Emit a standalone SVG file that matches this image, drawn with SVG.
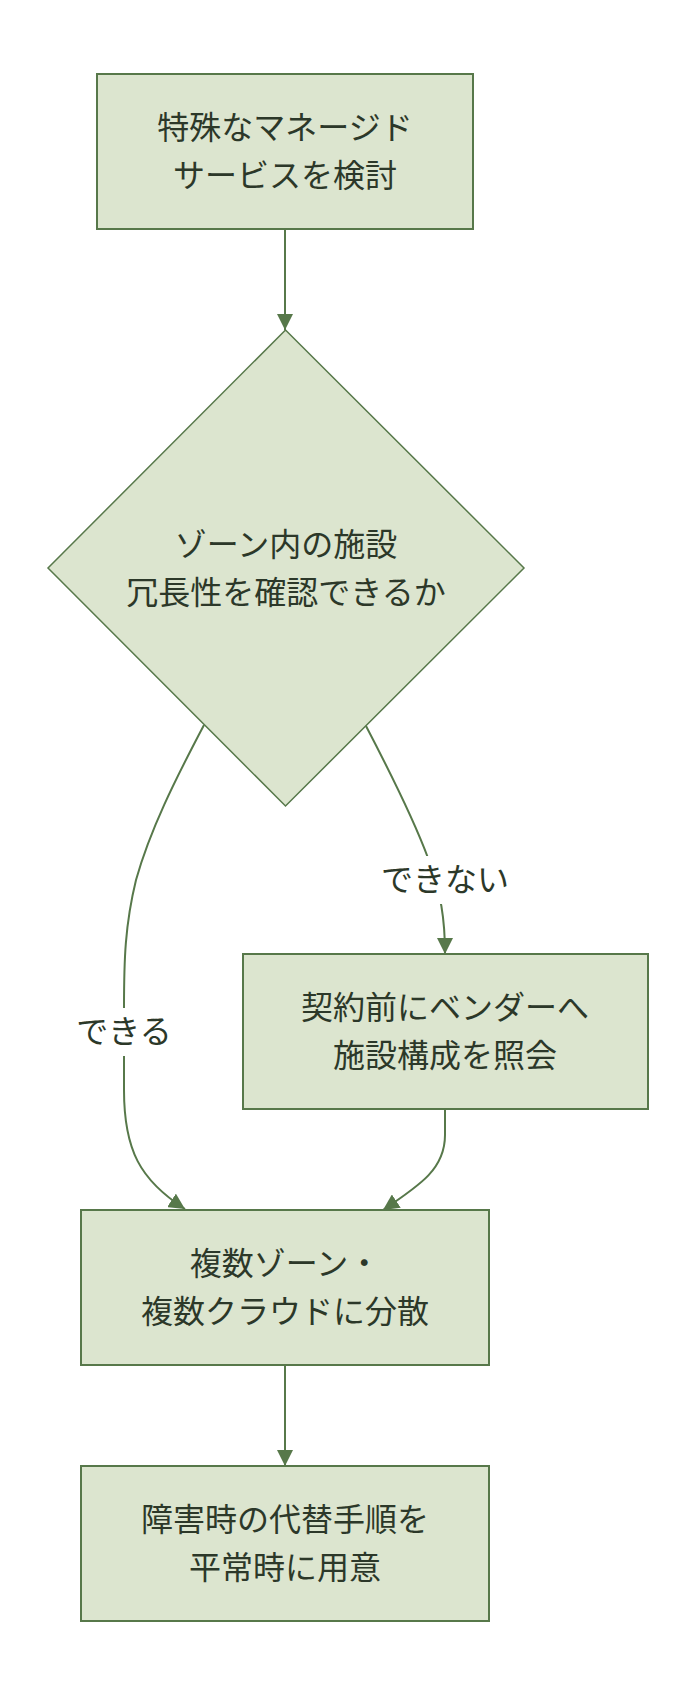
<svg xmlns="http://www.w3.org/2000/svg" width="696" height="1700" viewBox="0 0 696 1700">
<defs>
<style>
.node{fill:#dce5cf;stroke:#57784a;stroke-width:2}
.lbl{font-family:"Noto Sans CJK JP","Noto Sans",sans-serif;font-size:32px;fill:#2c3829;text-anchor:middle;dominant-baseline:central}
.edge{fill:none;stroke:#57784a;stroke-width:2}
.lblbg{fill:#ffffff}
</style>
<marker id="arr" viewBox="0 0 16 16" refX="16" refY="8" markerWidth="16" markerHeight="16" markerUnits="userSpaceOnUse" orient="auto">
<path d="M0,0 L16,8 L0,16 Z" fill="#57784a"/>
</marker>
</defs>
<rect width="696" height="1700" fill="#ffffff"/>
<g id="connectors">
<path class="edge" d="M285,229 L285,330" marker-end="url(#arr)"/>
<path class="edge" d="M204,725 C175,780 150,830 136,880 C125,925 124,960 124,1008 L124,1090 C124,1150 140,1180 185,1209" marker-end="url(#arr)"/>
<path class="edge" d="M366,726 C390,772 414,820 428,858 C441,892 445,920 445,954" marker-end="url(#arr)"/>
<path class="edge" d="M445,1110 L445,1135 C445,1168 422,1184 383,1210" marker-end="url(#arr)"/>
<path class="edge" d="M285,1366 L285,1466" marker-end="url(#arr)"/>
<g id="edge-label-yes">
<rect class="lblbg" x="75" y="1008" width="98" height="48"/>
<text class="lbl" x="124" y="1029">できる</text>
</g>
<g id="edge-label-no">
<rect class="lblbg" x="380" y="856" width="130" height="48"/>
<text class="lbl" x="445" y="877">できない</text>
</g>
</g>
<g id="n1">
<rect class="node" x="97" y="74" width="376" height="155"/>
<text class="lbl" x="285" y="125">特殊なマネージド</text>
<text class="lbl" x="285" y="173">サービスを検討</text>
</g>
<g id="n2">
<polygon class="node" style="stroke-width:1.5" points="285.5,330 524,568 285.5,806 48,568"/>
<text class="lbl" x="286" y="542">ゾーン内の施設</text>
<text class="lbl" x="286" y="590">冗長性を確認できるか</text>
</g>
<g id="n3">
<rect class="node" x="243" y="954" width="405" height="155"/>
<text class="lbl" x="445" y="1005">契約前にベンダーへ</text>
<text class="lbl" x="445" y="1053">施設構成を照会</text>
</g>
<g id="n4">
<rect class="node" x="81" y="1210" width="408" height="155"/>
<text class="lbl" x="285" y="1261">複数ゾーン・</text>
<text class="lbl" x="285" y="1309">複数クラウドに分散</text>
</g>
<g id="n5">
<rect class="node" x="81" y="1466" width="408" height="155"/>
<text class="lbl" x="285" y="1517">障害時の代替手順を</text>
<text class="lbl" x="285" y="1565">平常時に用意</text>
</g>
</svg>
